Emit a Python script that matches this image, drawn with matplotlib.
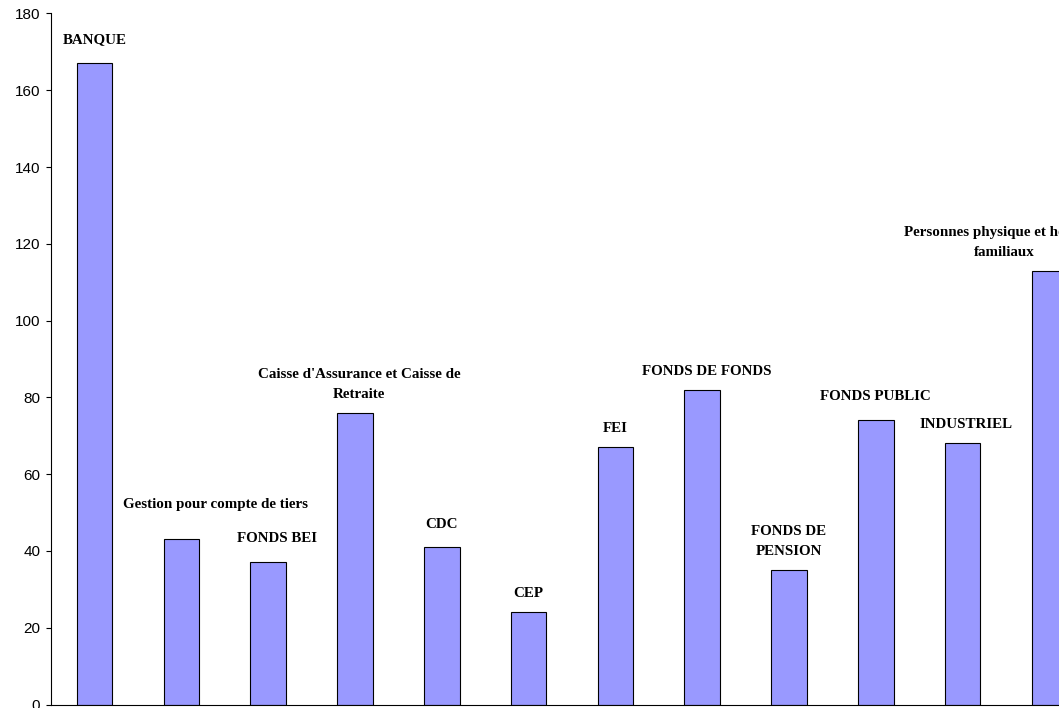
import numpy as np
from matplotlib import pyplot as plt

# data
categories = ['BANQUE', 'Gestion pour compte de tiers', 'FONDS BEI',
              "Caisse d'Assurance et Caisse de\nRetraite", 'CDC', 'CEP', 'FEI',
              'FONDS DE FONDS', 'FONDS DE\nPENSION', 'FONDS PUBLIC', 'INDUSTRIEL',
              'Personnes physique et holdings\nfamiliaux']
values = [167, 43, 37, 76, 41, 24, 67, 82, 35, 74, 68, 113]
yticks = [0, 20, 40, 60, 80, 100, 120, 140, 160, 180]

# small manual moves of some labels (pixels), like in the original sheet
label_nudge = {0: (0, 5), 1: (34, 16), 2: (9, 5), 3: (4, 0), 4: (0, 4),
               7: (5, 0), 9: (0, 5), 10: (3, 0), 11: (-45, 0)}

fig = plt.figure(figsize=(10.59, 7.08), dpi=100)
ax = fig.add_axes([0.0483, 0.00494, 0.9836, 0.976])

x = np.arange(len(categories))
ax.bar(x, values, width=0.41, color='#9999FF', edgecolor='black', linewidth=0.8)

for i, (name, v) in enumerate(zip(categories, values)):
    dx, dy = label_nudge.get(i, (0, 0))
    ax.annotate(name, (i, v), xytext=(dx, 12 + dy), textcoords='offset pixels',
                ha='center', va='bottom', fontsize=10.8, fontweight='bold',
                family='Liberation Serif', linespacing=1.7)

ax.set_xlim(-0.5, len(categories) - 0.5)
ax.set_ylim(0, 180)
ax.set_yticks(yticks)
ax.set_xticks([])
for lbl in ax.get_yticklabels():
    lbl.set_family('Liberation Sans')
    lbl.set_fontsize(11)
# tick length / pad given in points (5 px and 6 px)
ax.tick_params(axis='y', direction='out', length=3.6, width=0.8, pad=4.3)
ax.spines['top'].set_visible(False)
ax.spines['right'].set_visible(False)
ax.spines['left'].set_linewidth(0.8)
ax.spines['bottom'].set_linewidth(0.8)

plt.savefig('out.png', dpi=100)
